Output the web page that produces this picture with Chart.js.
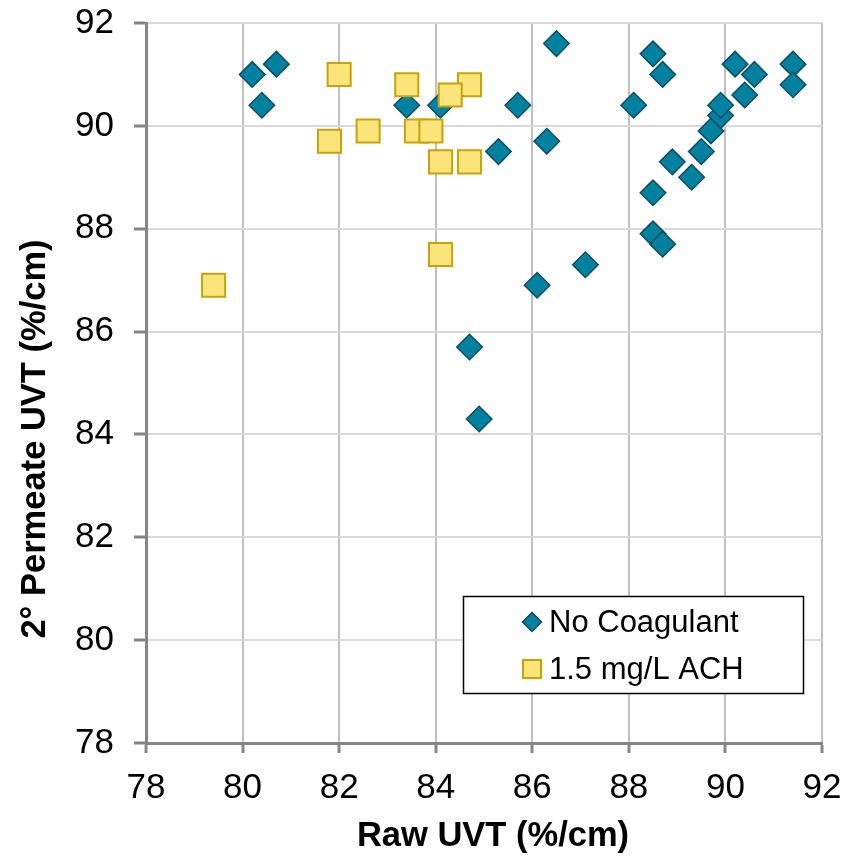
<!DOCTYPE html>
<html>
<head>
<meta charset="utf-8">
<script src="https://cdn.jsdelivr.net/npm/chart.js@4/dist/chart.umd.min.js"></script>
<style>
  html, body { margin: 0; padding: 0; background: #ffffff; }
  #wrap { width: 846px; height: 857px; }
</style>
</head>
<body>
<div id="wrap"><canvas id="chart" width="846" height="857"></canvas></div>
<script>
// Raw UVT vs. secondary permeate UVT (%/cm)
const noCoagRaw = [80.2, 80.7, 80.4, 83.4, 84.1, 85.7, 85.3, 86.3, 86.5, 86.1, 84.7, 84.9, 87.1,
                   88.5, 88.7, 88.1, 88.5, 88.5, 88.7, 88.9, 89.3, 89.5, 89.7, 89.9, 89.9,
                   90.2, 90.6, 90.4, 91.4, 91.4];
const noCoagPermeate = [91.0, 91.2, 90.4, 90.4, 90.4, 90.4, 89.5, 89.7, 91.6, 86.9, 85.7, 84.3, 87.3,
                        91.4, 91.0, 90.4, 88.7, 87.9, 87.7, 89.3, 89.0, 89.5, 89.9, 90.2, 90.4,
                        91.2, 91.0, 90.6, 91.2, 90.8];
const achRaw = [82.0, 83.4, 84.7, 84.3, 81.8, 82.6, 83.6, 83.9, 84.1, 84.7, 84.1, 79.4];
const achPermeate = [91.0, 90.8, 90.8, 90.6, 89.7, 89.9, 89.9, 89.9, 89.3, 89.3, 87.5, 86.9];

const seriesNames = ['No Coagulant', '1.5 mg/L ACH'];
const xTicks = [78, 80, 82, 84, 86, 88, 90, 92];
const yTicks = [78, 80, 82, 84, 86, 88, 90, 92];
const xTitle = 'Raw UVT (%/cm)';
const yTitle = '2° Permeate UVT (%/cm)';

const FONT = "'Liberation Sans', Arial, Helvetica, sans-serif";
const BLUE = '#00819F', BLUE_EDGE = '#0C4E60';
const YELLOW = '#FBE57B', YELLOW_EDGE = '#C6A30A';

function pairs(xs, ys) { return xs.map((x, i) => ({ x: x, y: ys[i] })); }

// fixed axis box sizes, no extra room reserved for overhanging tick labels
function fixBox(size, key) {
  return s => {
    s[key] = size;
    s.paddingTop = 0; s.paddingBottom = 0; s.paddingLeft = 0; s.paddingRight = 0;
  };
}

// Axis titles, placed slightly off-centre like the original layout
const axisTitles = {
  id: 'axisTitles',
  afterDraw(chart) {
    const ctx = chart.ctx, a = chart.chartArea;
    ctx.save();
    ctx.fillStyle = '#000000';
    ctx.font = 'bold 34.5px ' + FONT;
    ctx.textAlign = 'center';
    ctx.textBaseline = 'middle';
    ctx.fillText(xTitle, (a.left + a.right) / 2 + 9, 836);
    ctx.translate(35, (a.top + a.bottom) / 2 + 56);
    ctx.rotate(-Math.PI / 2);
    ctx.fillText(yTitle, 0, 0);
    ctx.restore();
  }
};

// Legend box drawn inside the plot area
const boxLegend = {
  id: 'boxLegend',
  afterDraw(chart) {
    const ctx = chart.ctx;
    ctx.save();
    ctx.fillStyle = '#ffffff';
    ctx.fillRect(463.5, 596.5, 340, 97);
    ctx.strokeStyle = '#000000';
    ctx.lineWidth = 1.5;
    ctx.strokeRect(463.5, 596.5, 340, 97);

    const rows = [622, 669];
    // diamond
    ctx.beginPath();
    ctx.moveTo(532, rows[0] - 9.5);
    ctx.lineTo(541.5, rows[0]);
    ctx.lineTo(532, rows[0] + 9.5);
    ctx.lineTo(522.5, rows[0]);
    ctx.closePath();
    ctx.fillStyle = BLUE; ctx.fill();
    ctx.strokeStyle = BLUE_EDGE; ctx.lineWidth = 1.5; ctx.stroke();
    // square
    ctx.fillStyle = YELLOW;
    ctx.fillRect(523, rows[1] - 9, 18, 18);
    ctx.strokeStyle = YELLOW_EDGE; ctx.lineWidth = 2;
    ctx.strokeRect(523, rows[1] - 9, 18, 18);

    ctx.fillStyle = '#000000';
    ctx.font = '31px ' + FONT;
    ctx.textAlign = 'left';
    ctx.textBaseline = 'middle';
    ctx.fillText(seriesNames[0], 549, rows[0] + 1);
    ctx.fillText(seriesNames[1], 549, rows[1] + 1);
    ctx.restore();
  }
};

new Chart(document.getElementById('chart'), {
  type: 'scatter',
  data: {
    datasets: [
      {
        label: seriesNames[0],
        data: pairs(noCoagRaw, noCoagPermeate),
        pointStyle: 'rectRot',
        pointRadius: 12.75,
        backgroundColor: BLUE,
        borderColor: BLUE_EDGE,
        borderWidth: 1.5,
        order: 1
      },
      {
        label: seriesNames[1],
        data: pairs(achRaw, achPermeate),
        pointStyle: 'rect',
        pointRadius: 16.3,
        backgroundColor: YELLOW,
        borderColor: YELLOW_EDGE,
        borderWidth: 2,
        order: 0
      }
    ]
  },
  options: {
    responsive: false,
    animation: false,
    events: [],
    layout: { padding: { left: 0, top: 23, right: 24, bottom: 0 } },
    plugins: { legend: { display: false }, tooltip: { enabled: false } },
    scales: {
      x: {
        type: 'linear',
        min: 78, max: 92,
        afterBuildTicks: s => { s.ticks = xTicks.map(v => ({ value: v })); },
        afterFit: fixBox(114, 'height'),
        grid: { color: '#C0C0C0', lineWidth: 2, tickLength: 10, tickColor: '#868686', tickWidth: 3 },
        border: { color: '#868686', width: 3 },
        ticks: { color: '#000000', font: { family: FONT, size: 35 }, padding: 14, maxRotation: 0 },
        title: { display: false }
      },
      y: {
        type: 'linear',
        min: 78, max: 92,
        afterBuildTicks: s => { s.ticks = yTicks.map(v => ({ value: v })); },
        afterFit: fixBox(146, 'width'),
        grid: { color: '#D9D9D9', lineWidth: 2, tickLength: 12, tickColor: '#868686', tickWidth: 3 },
        border: { color: '#868686', width: 3 },
        ticks: { color: '#000000', font: { family: FONT, size: 35 }, padding: 20 },
        title: { display: false }
      }
    }
  },
  plugins: [axisTitles, boxLegend]
});
</script>
</body>
</html>
